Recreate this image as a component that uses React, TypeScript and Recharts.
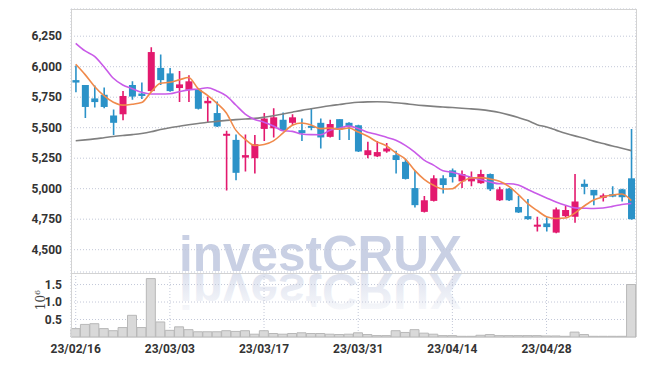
import React from "react";
import { Bar, CartesianGrid, ComposedChart, Line, XAxis, YAxis } from "recharts";

// trading days (KRX), 23/02/16 .. 23/05/15
const dates = [
  "23/02/16", "23/02/17", "23/02/20", "23/02/21", "23/02/22", "23/02/23", "23/02/24", "23/02/27", "23/02/28", "23/03/02",
  "23/03/03", "23/03/06", "23/03/07", "23/03/08", "23/03/09", "23/03/10", "23/03/13", "23/03/14", "23/03/15", "23/03/16",
  "23/03/17", "23/03/20", "23/03/21", "23/03/22", "23/03/23", "23/03/24", "23/03/27", "23/03/28", "23/03/29", "23/03/30",
  "23/03/31", "23/04/03", "23/04/04", "23/04/05", "23/04/06", "23/04/07", "23/04/10", "23/04/11", "23/04/12", "23/04/13",
  "23/04/14", "23/04/17", "23/04/18", "23/04/19", "23/04/20", "23/04/21", "23/04/24", "23/04/25", "23/04/26", "23/04/27",
  "23/04/28", "23/05/02", "23/05/03", "23/05/04", "23/05/08", "23/05/09", "23/05/10", "23/05/11", "23/05/12", "23/05/15",
];

const opens = [
  5890, 5850, 5740, 5770, 5600, 5610, 5850, 5780, 5800, 5990,
  5945, 5825, 5810, 5810, 5700, 5620, 5440, 5400, 5255, 5250,
  5490, 5495, 5565, 5540, 5480, 5515, 5540, 5425, 5570, 5540,
  5520, 5275, 5265, 5305, 5275, 5220, 5005, 4810, 4900, 5085,
  5150, 5060, 5060, 5045, 5120, 4905, 5000, 4850, 4775, 4690,
  4715, 4640, 4775, 4770, 5040, 4990, 4925, 4955, 4995, 5085,
];
const highs = [
  6010, 5850, 5845, 5830, 5650, 5800, 5880, 5870, 6160, 6100,
  5990, 5965, 5930, 5820, 5755, 5715, 5475, 5445, 5445, 5440,
  5620, 5660, 5625, 5610, 5575, 5660, 5575, 5565, 5570, 5545,
  5525, 5385, 5390, 5375, 5310, 5245, 5150, 4940, 5110, 5110,
  5165, 5150, 5140, 5155, 5125, 5015, 5005, 4940, 4915, 4770,
  4765, 4845, 4860, 5120, 5075, 4990, 4960, 5020, 5000, 5490,
];
const lows = [
  5790, 5580, 5665, 5660, 5440, 5560, 5730, 5735, 5795, 5850,
  5795, 5710, 5710, 5650, 5545, 5505, 4985, 5070, 5140, 5125,
  5390, 5420, 5475, 5520, 5390, 5480, 5330, 5420, 5400, 5400,
  5300, 5250, 5260, 5295, 5125, 5075, 4845, 4805, 4895, 4960,
  5050, 5005, 5020, 5040, 4980, 4900, 4900, 4800, 4745, 4650,
  4650, 4635, 4765, 4720, 4955, 4865, 4895, 4930, 4895, 4745,
];
const closes = [
  5870, 5670, 5710, 5670, 5540, 5760, 5755, 5760, 6120, 5890,
  5800, 5855, 5880, 5655, 5720, 5510, 5450, 5130, 5275, 5365,
  5575, 5585, 5480, 5585, 5455, 5505, 5420, 5530, 5485, 5510,
  5305, 5315, 5300, 5330, 5235, 5080, 4865, 4905, 5085, 5030,
  5095, 5120, 5095, 5120, 4995, 4995, 4905, 4805, 4750, 4705,
  4685, 4830, 4825, 4895, 5015, 4945, 4945, 4935, 4930, 4750,
];

// moving averages as drawn (orange / purple / gray)
const ma5 = [
  6020, 5935, 5838, 5762, 5708, 5685, 5692, 5706, 5792, 5865,
  5872, 5892, 5912, 5820, 5765, 5700, 5620, 5480, 5405, 5355,
  5362, 5392, 5455, 5520, 5538, 5522, 5492, 5497, 5488, 5497,
  5465, 5430, 5384, 5351, 5293, 5243, 5150, 5077, 5028, 4998,
  5000, 5056, 5088, 5091, 5080, 5061, 5019, 4952, 4878, 4821,
  4770, 4756, 4760, 4800, 4858, 4908, 4932, 4948, 4956, 4902,
];
const ma10 = [
  6192, 6129, 6085, 6000, 5905, 5850, 5820, 5790, 5776, 5776,
  5778, 5795, 5810, 5817, 5828, 5801, 5760, 5686, 5612, 5568,
  5545, 5514, 5475, 5470, 5448, 5443, 5442, 5479, 5496, 5513,
  5493, 5463, 5445, 5421, 5397, 5355, 5300, 5234, 5193, 5147,
  5135, 5115, 5094, 5074, 5055, 5040, 5040, 5030, 4993, 4958,
  4924, 4891, 4864, 4843, 4840, 4838, 4842, 4855, 4871, 4878,
];
const ma60 = [
  5393, 5400, 5408, 5418, 5428, 5436, 5443, 5452, 5466, 5485,
  5500, 5512, 5524, 5535, 5545, 5552, 5560, 5566, 5571, 5576,
  5586, 5598, 5612, 5627, 5642, 5655, 5668, 5680, 5690, 5700,
  5708, 5712, 5713, 5710, 5704, 5697, 5688, 5681, 5675, 5669,
  5665, 5660, 5654, 5648, 5638, 5624, 5605, 5583, 5558, 5525,
  5505, 5480, 5455, 5433, 5413, 5390, 5370, 5350, 5332, 5312,
];

// volume, millions of shares
const volumes = [
  0.24, 0.36, 0.38, 0.24, 0.18, 0.27, 0.62, 0.27, 1.67, 0.43,
  0.19, 0.29, 0.21, 0.15, 0.15, 0.15, 0.18, 0.16, 0.18, 0.08,
  0.18, 0.1, 0.08, 0.1, 0.12, 0.1, 0.1, 0.08, 0.07, 0.08,
  0.12, 0.07, 0.04, 0.04, 0.18, 0.13, 0.21, 0.11, 0.08, 0.04,
  0.04, 0.02, 0.02, 0.05, 0.07, 0.04, 0.04, 0.04, 0.04, 0.04,
  0.03, 0.03, 0.02, 0.14, 0.07, 0.02, 0.02, 0.02, 0.02, 1.5,
];

const priceTicks = [4500, 4750, 5000, 5250, 5500, 5750, 6000, 6250];
const volumeTicks = [0.5, 1.0, 1.5];

const PINK = "#e3196e";
const BLUE = "#2b92c8";
const GRID = "#c3c8d8";
const FRAME = "#d3d3d3";
const tickStyle = {
  fill: "#333",
  fontSize: 12,
  fontFamily: "'Liberation Sans Narrow', Roboto, sans-serif",
  fontWeight: 700,
};

const data = dates.map((date, i) => ({
  date,
  open: opens[i],
  high: highs[i],
  low: lows[i],
  close: closes[i],
  range: [lows[i], highs[i]],
  ma5: ma5[i],
  ma10: ma10[i],
  ma60: ma60[i],
  vol: volumes[i],
}));

const Candle = (props: any) => {
  const { x, y, width, height, payload } = props;
  if (x == null || y == null || !payload) return null;
  const { open, close, high, low } = payload;
  const color = close >= open ? PINK : BLUE;
  const top = Math.min(y, y + height);
  const h = Math.abs(height);
  const span = high - low || 1;
  const py = (v: number) => top + ((high - v) / span) * h;
  const cx = x + width / 2;
  const bodyTop = py(Math.max(open, close));
  const bodyBottom = py(Math.min(open, close));
  const bw = 7;
  return (
    <g>
      <line x1={cx} x2={cx} y1={top} y2={top + h} stroke={color} strokeWidth={1.6} />
      <rect
        x={cx - bw / 2}
        y={bodyTop}
        width={bw}
        height={Math.max(bodyBottom - bodyTop, 2)}
        fill={color}
      />
    </g>
  );
};

const W = 645;
const LEFT = 71;
const RIGHT = 9;

export default function App() {
  return (
    <div style={{ position: "relative", width: W, height: 366, margin: -8, background: "#fff" }}>
      {/* watermark + reflection + 10^6 label, behind the charts */}
      <svg width={W} height={366} style={{ position: "absolute", left: 0, top: 0 }}>
        <defs>
          <linearGradient id="fade" x1="0" y1="0" x2="0" y2="1">
            <stop offset="0" stopColor="#c9d0e4" stopOpacity={0.05} />
            <stop offset="1" stopColor="#c9d0e4" stopOpacity={0.75} />
          </linearGradient>
        </defs>
        <text
          x={179}
          y={271}
          fontSize={50}
          fontWeight={700}
          fontFamily="'Liberation Sans', Arial, sans-serif"
          fill="#c9d0e4"
          textLength={283}
          lengthAdjust="spacingAndGlyphs"
        >
          investCRUX
        </text>
        <g transform="translate(0,545) scale(1,-1)">
          <text
            x={179}
            y={271}
            fontSize={50}
            fontWeight={700}
            fontFamily="'Liberation Sans', Arial, sans-serif"
            fill="url(#fade)"
            textLength={283}
            lengthAdjust="spacingAndGlyphs"
          >
            investCRUX
          </text>
        </g>
        <text
          transform="translate(45,300) rotate(-90)"
          textAnchor="middle"
          fontSize={12}
          fontFamily="'DejaVu Serif', serif"
          fill="#444"
        >
          10
          <tspan dy={-5} fontSize={8}>
            6
          </tspan>
        </text>
      </svg>

      <div style={{ position: "absolute", left: 0, top: 0 }}>
        <ComposedChart
          width={W}
          height={272}
          data={data}
          margin={{ top: 9, right: RIGHT, bottom: 0, left: 0 }}
        >
          <CartesianGrid stroke={GRID} strokeDasharray="1 2" />
          <XAxis
            dataKey="date"
            interval={9}
            height={0}
            tick={false}
            axisLine={false}
            tickLine={false}
          />
          <YAxis
            width={LEFT}
            domain={[4317, 6473]}
            ticks={priceTicks}
            interval={0}
            allowDataOverflow
            axisLine={false}
            tickLine={false}
            tickSize={0}
            tickMargin={9}
            tick={tickStyle}
            tickFormatter={(v: number) => v.toLocaleString("en-US")}
          />
          <Bar dataKey="range" shape={(p: any) => <Candle {...p} />} isAnimationActive={false} />
          <Line
            dataKey="ma60"
            type="monotone"
            stroke="#808080"
            strokeWidth={1.6}
            dot={false}
            activeDot={false}
            isAnimationActive={false}
          />
          <Line
            dataKey="ma10"
            type="monotone"
            stroke="#c95be8"
            strokeWidth={1.6}
            dot={false}
            activeDot={false}
            isAnimationActive={false}
          />
          <Line
            dataKey="ma5"
            type="monotone"
            stroke="#f08a4b"
            strokeWidth={1.6}
            dot={false}
            activeDot={false}
            isAnimationActive={false}
          />
        </ComposedChart>
      </div>

      <div style={{ position: "absolute", left: 0, top: 272 }}>
        <ComposedChart
          width={W}
          height={94}
          data={data}
          barCategoryGap={0}
          margin={{ top: 1, right: RIGHT, bottom: 0, left: 0 }}
        >
          <CartesianGrid stroke={GRID} strokeDasharray="1 2" />
          <XAxis
            dataKey="date"
            interval={9}
            height={29}
            axisLine={false}
            tickLine={false}
            tickSize={0}
            tickMargin={7}
            tick={tickStyle}
          />
          <YAxis
            width={LEFT}
            domain={[0, 1.83]}
            ticks={volumeTicks}
            interval={0}
            allowDataOverflow
            axisLine={false}
            tickLine={false}
            tickSize={0}
            tickMargin={9}
            tick={tickStyle}
            tickFormatter={(v: number) => v.toFixed(1)}
          />
          <Bar dataKey="vol" fill="#d9d9d9" stroke="#b8b8b8" strokeWidth={1} isAnimationActive={false} />
        </ComposedChart>
      </div>

      {/* panel frames */}
      <div
        style={{
          position: "absolute",
          left: LEFT,
          top: 9,
          width: W - LEFT - RIGHT - 1,
          height: 263,
          border: `1px solid ${FRAME}`,
          boxSizing: "content-box",
          pointerEvents: "none",
        }}
      />
      <div
        style={{
          position: "absolute",
          left: LEFT,
          top: 337,
          width: W - LEFT - RIGHT,
          height: 1,
          background: FRAME,
        }}
      />
      <div style={{ position: "absolute", left: LEFT, top: 272, width: 1, height: 65, background: FRAME }} />
      <div style={{ position: "absolute", left: W - RIGHT, top: 272, width: 1, height: 65, background: FRAME }} />
    </div>
  );
}
